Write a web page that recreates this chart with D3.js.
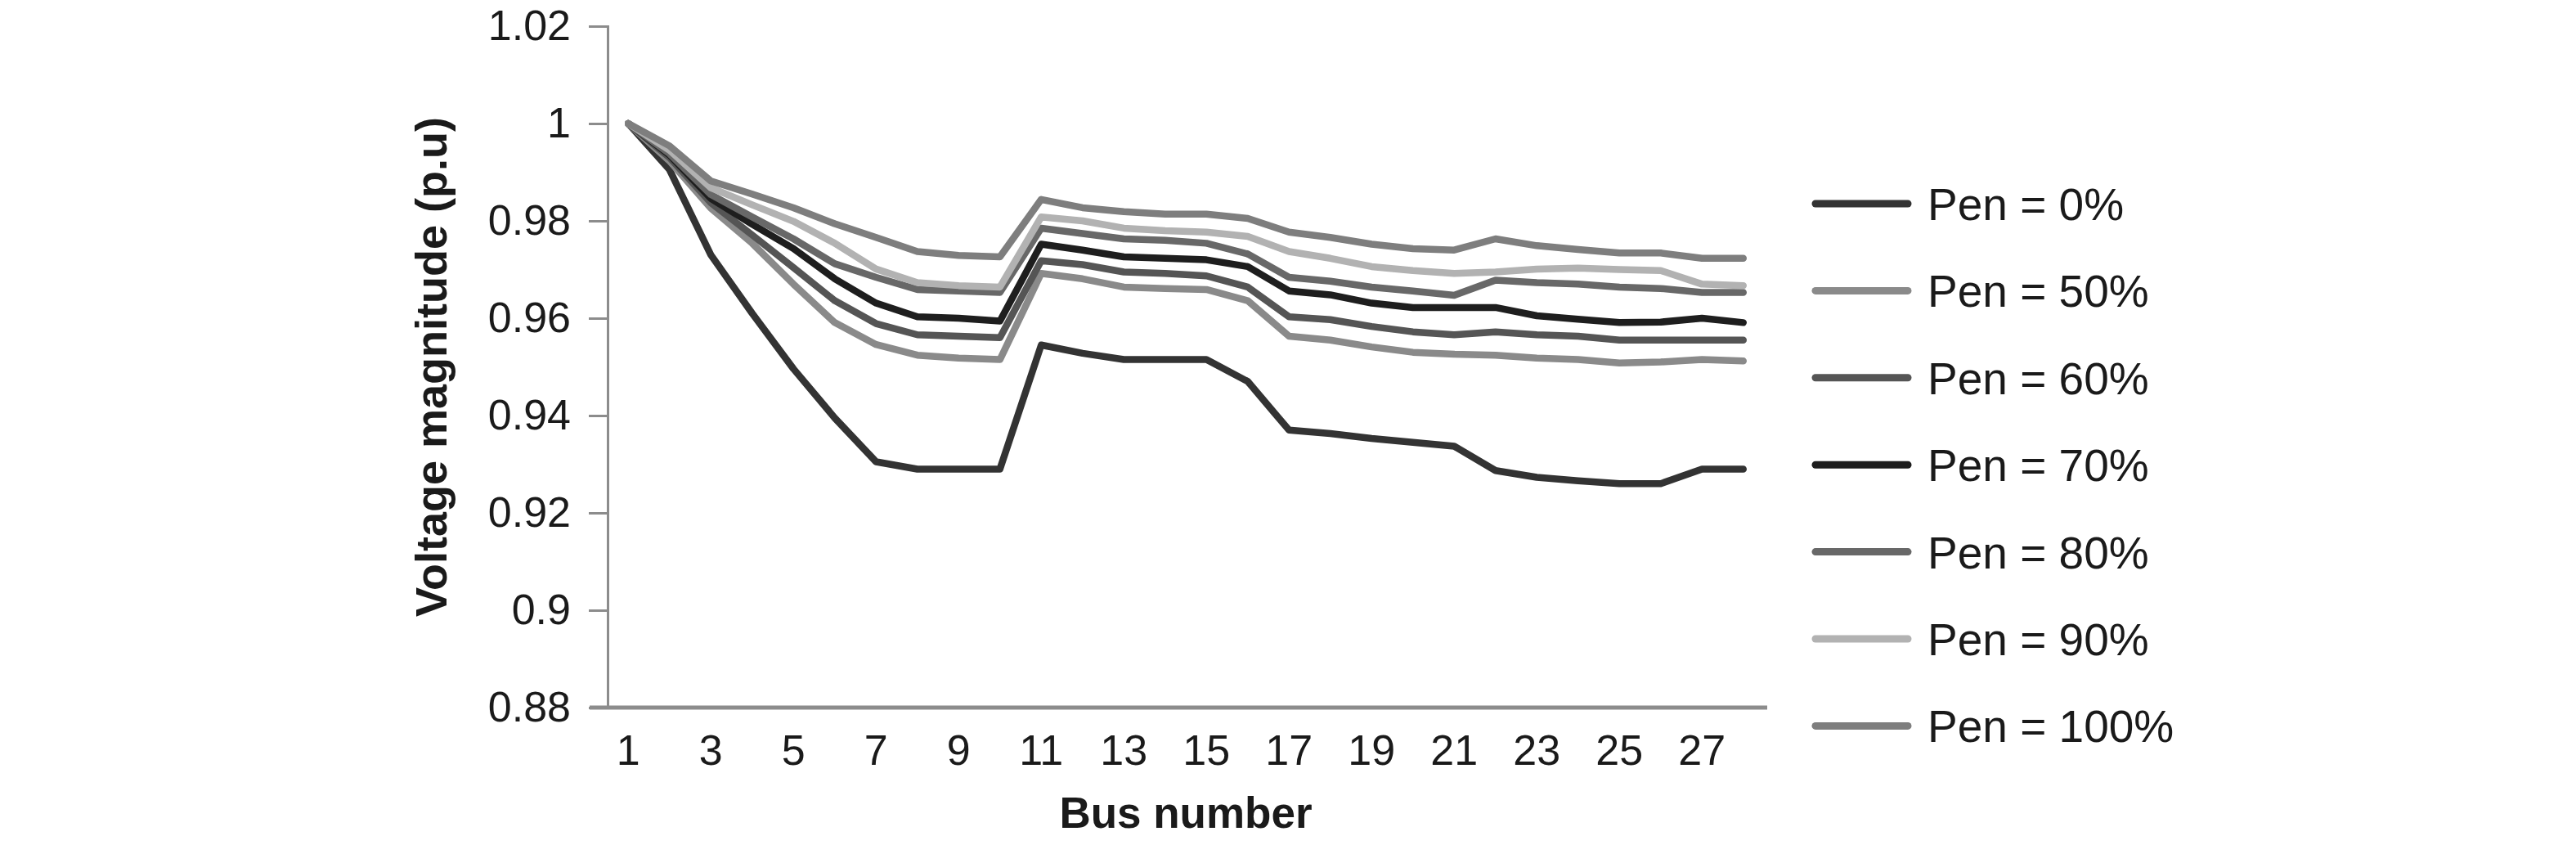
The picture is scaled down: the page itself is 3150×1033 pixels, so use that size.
<!DOCTYPE html>
<html>
<head>
<meta charset="utf-8">
<script src="https://cdn.jsdelivr.net/npm/d3@7"></script>
<style>
  html, body { margin: 0; padding: 0; background: #ffffff; }
  svg { display: block; }
  text { font-family: "Liberation Sans", Arial, Helvetica, sans-serif; fill: #1a1a1a; }
</style>
</head>
<body>
<svg id="chart" width="3150" height="1033"></svg>
<script>
// ---------------- DATA ----------------
const buses = d3.range(1, 29);
const xTickValues = [1, 3, 5, 7, 9, 11, 13, 15, 17, 19, 21, 23, 25, 27];
const yTickValues = [0.88, 0.90, 0.92, 0.94, 0.96, 0.98, 1.00, 1.02];
const yTickLabels = ["0.88", "0.9", "0.92", "0.94", "0.96", "0.98", "1", "1.02"];

const seriesNames = ["Pen = 0%", "Pen = 50%", "Pen = 60%", "Pen = 70%", "Pen = 80%", "Pen = 90%", "Pen = 100%"];
const seriesColors = ["#333333", "#8a8a8a", "#555555", "#1e1e1e", "#686868", "#b2b2b2", "#7e7e7e"];

const pen0 = [1.000, 0.9905, 0.9730, 0.9610, 0.9496, 0.9395, 0.9305, 0.9290, 0.9290, 0.9290,
  0.9545, 0.9528, 0.9515, 0.9515, 0.9515, 0.9470, 0.9370, 0.9363, 0.9353, 0.9345,
  0.9337, 0.9287, 0.9273, 0.9266, 0.9260, 0.9260, 0.9290, 0.9290];
const pen50 = [1.000, 0.9923, 0.9826, 0.9754, 0.9670, 0.9591, 0.9546, 0.9524, 0.9518, 0.9515,
  0.9692, 0.9681, 0.9664, 0.9661, 0.9659, 0.9636, 0.9563, 0.9555, 0.9541, 0.9530,
  0.9526, 0.9524, 0.9518, 0.9515, 0.9508, 0.9510, 0.9515, 0.9512];
const pen60 = [1.000, 0.9930, 0.9837, 0.9771, 0.9704, 0.9636, 0.9589, 0.9566, 0.9563, 0.9560,
  0.9718, 0.9710, 0.9695, 0.9692, 0.9687, 0.9664, 0.9603, 0.9597, 0.9583, 0.9572,
  0.9566, 0.9572, 0.9566, 0.9563, 0.9555, 0.9555, 0.9555, 0.9555];
const pen70 = [1.000, 0.9935, 0.9846, 0.9793, 0.9743, 0.9681, 0.9631, 0.9603, 0.9600, 0.9594,
  0.9752, 0.9740, 0.9726, 0.9723, 0.9720, 0.9706, 0.9656, 0.9648, 0.9631, 0.9622,
  0.9622, 0.9622, 0.9605, 0.9598, 0.9591, 0.9592, 0.9600, 0.9591];
const pen80 = [1.000, 0.9938, 0.9854, 0.9808, 0.9763, 0.9712, 0.9684, 0.9659, 0.9656, 0.9653,
  0.9785, 0.9774, 0.9763, 0.9760, 0.9754, 0.9732, 0.9684, 0.9676, 0.9664, 0.9656,
  0.9647, 0.9678, 0.9673, 0.9670, 0.9664, 0.9661, 0.9653, 0.9653];
const pen90 = [1.000, 0.9945, 0.9868, 0.9833, 0.9799, 0.9754, 0.9701, 0.9673, 0.9667, 0.9664,
  0.9808, 0.9800, 0.9785, 0.9780, 0.9777, 0.9768, 0.9737, 0.9723, 0.9706, 0.9698,
  0.9692, 0.9695, 0.9701, 0.9703, 0.9700, 0.9698, 0.9670, 0.9667];
const pen100 = [1.000, 0.9954, 0.9882, 0.9855, 0.9827, 0.9794, 0.9766, 0.9737, 0.9729, 0.9726,
  0.9844, 0.9827, 0.9819, 0.9814, 0.9814, 0.9805, 0.9777, 0.9766, 0.9752, 0.9743,
  0.9740, 0.9763, 0.9749, 0.9741, 0.9734, 0.9734, 0.9723, 0.9723];

const seriesValues = [pen0, pen50, pen60, pen70, pen80, pen90, pen100];

// ---------------- CHART ----------------
const svg = d3.select("#chart");
svg.append("rect").attr("width", 3150).attr("height", 1033).attr("fill", "#ffffff");

const plot = { left: 743, right: 2157, top: 32, bottom: 865 };

const x = d3.scaleBand().domain(buses).range([plot.left, plot.right]).paddingInner(0).paddingOuter(0);
const xc = d => x(d) + x.bandwidth() / 2;
const y = d3.scaleLinear().domain([0.88, 1.02]).range([plot.bottom, plot.top]);

const axisColor = "#8c8c8c";

// Y axis
const yAxis = d3.axisLeft(y)
  .tickValues(yTickValues)
  .tickFormat((d, i) => yTickLabels[i])
  .tickSize(23)
  .tickPadding(22);
const gy = svg.append("g").attr("transform", `translate(${plot.left},0)`).call(yAxis);
gy.select(".domain").attr("stroke", axisColor).attr("stroke-width", 3);
gy.selectAll(".tick line").attr("stroke", axisColor).attr("stroke-width", 3);
gy.selectAll(".tick text").attr("font-size", 52).attr("fill", "#1a1a1a")
  .attr("font-family", "Liberation Sans, Arial, sans-serif");

// X axis
const xAxis = d3.axisBottom(x)
  .tickValues(xTickValues)
  .tickSize(0)
  .tickPadding(33);
const gx = svg.append("g").attr("transform", `translate(0,${plot.bottom})`).call(xAxis);
gx.select(".domain").remove();
gx.selectAll(".tick text").attr("font-size", 52).attr("fill", "#1a1a1a")
  .attr("font-family", "Liberation Sans, Arial, sans-serif");
gx.append("line")
  .attr("x1", plot.left - 22).attr("x2", plot.right + 4)
  .attr("y1", 0).attr("y2", 0)
  .attr("stroke", axisColor).attr("stroke-width", 5);

// Axis titles
svg.append("text")
  .attr("x", (plot.left + plot.right) / 2)
  .attr("y", 1012)
  .attr("text-anchor", "middle")
  .attr("font-size", 53)
  .attr("font-weight", "bold")
  .text("Bus number");

svg.append("text")
  .attr("transform", `translate(546,${(plot.top + plot.bottom) / 2}) rotate(-90)`)
  .attr("text-anchor", "middle")
  .attr("font-size", 54)
  .attr("font-weight", "bold")
  .text("Voltage magnitude (p.u)");

// Lines
const line = d3.line()
  .x((d, i) => xc(buses[i]))
  .y(d => y(d));

svg.append("g").selectAll("path")
  .data(seriesValues)
  .join("path")
  .attr("d", d => line(d))
  .attr("fill", "none")
  .attr("stroke", (d, i) => seriesColors[i])
  .attr("stroke-width", 8.5)
  .attr("stroke-linejoin", "round")
  .attr("stroke-linecap", "round");

// Legend
const legend = svg.append("g");
const legY0 = 249, legDy = 106.4;
const legRows = legend.selectAll("g")
  .data(seriesNames)
  .join("g")
  .attr("transform", (d, i) => `translate(0,${legY0 + i * legDy})`);
legRows.append("line")
  .attr("x1", 2220).attr("x2", 2333)
  .attr("y1", 0).attr("y2", 0)
  .attr("stroke", (d, i) => seriesColors[i])
  .attr("stroke-width", 9)
  .attr("stroke-linecap", "round");
legRows.append("text")
  .attr("x", 2357)
  .attr("y", 20)
  .attr("font-size", 55)
  .text(d => d);
</script>
</body>
</html>
